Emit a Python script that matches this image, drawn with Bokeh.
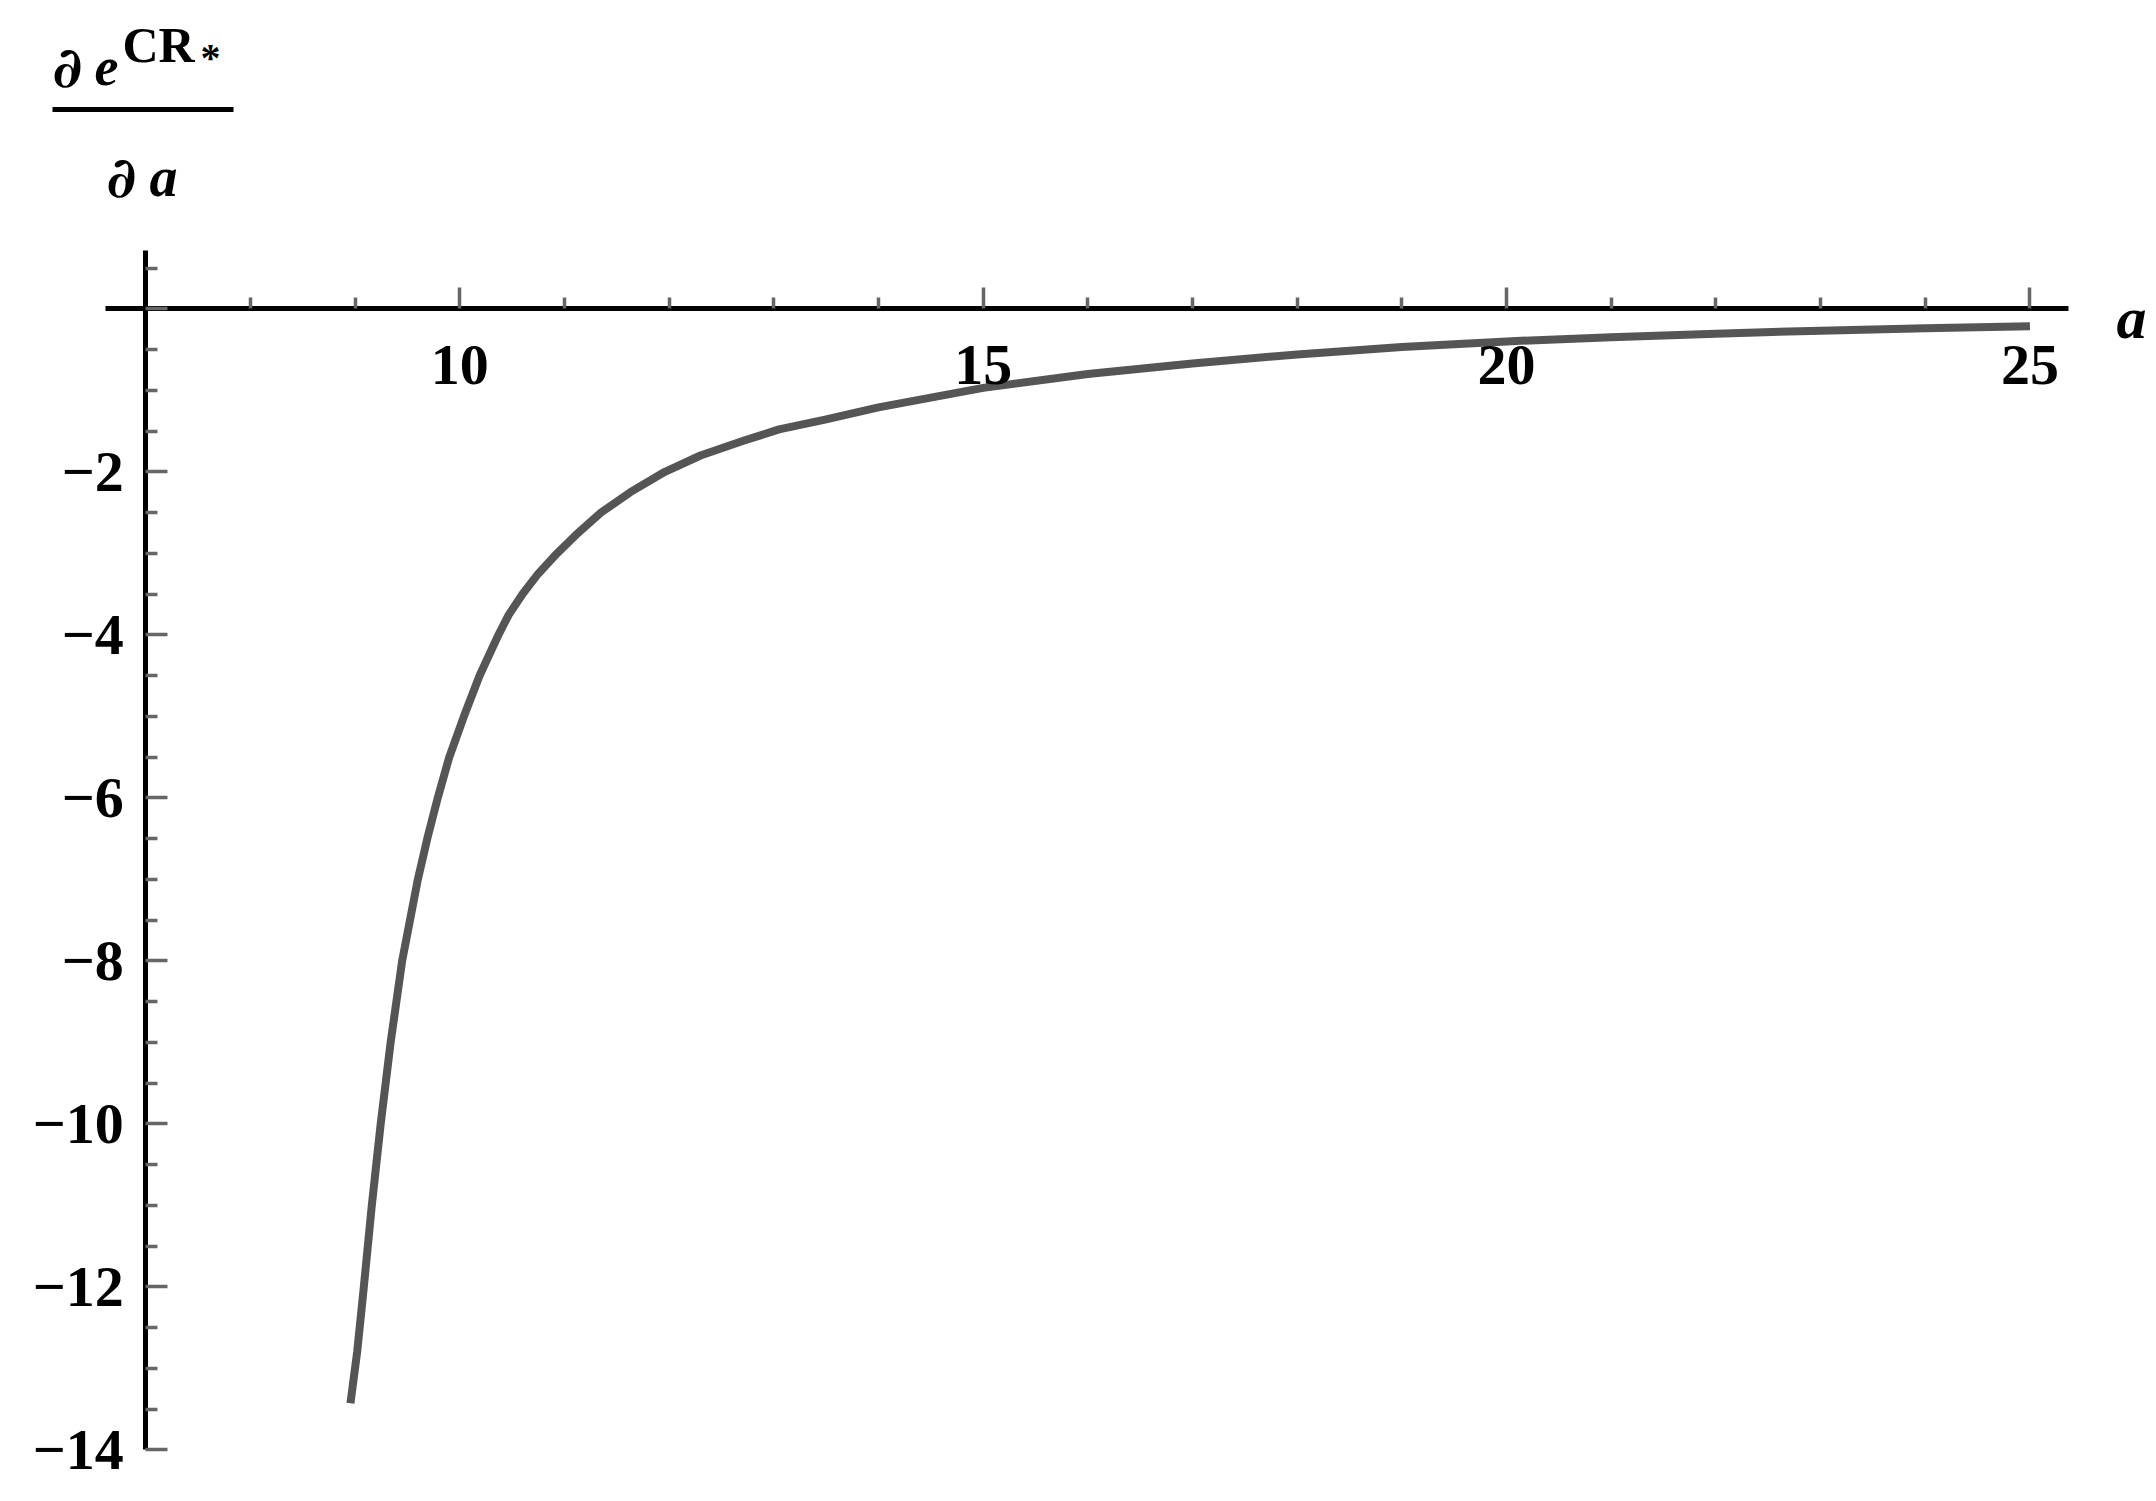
from bokeh.plotting import figure
from bokeh.models import FixedTicker, Range1d, Label, BoxAnnotation
from bokeh.embed import file_html
from bokeh.resources import INLINE

# ---- data ----
a_vals = [8.956, 9.02, 9.08, 9.16, 9.245, 9.34, 9.45, 9.60, 9.69, 9.79, 9.90,
          10.04, 10.19, 10.37, 10.47, 10.60, 10.75, 10.93, 11.13, 11.35, 11.63,
          11.96, 12.30, 12.71, 13.05, 13.49, 14.0, 15.0, 16.0, 17.0, 18.0, 19.0,
          20.0, 21.0, 22.0, 23.0, 24.0, 25.0]
de_vals = [-13.43, -12.80, -12.05, -11.00, -10.00, -9.00, -8.00, -7.00, -6.50,
           -6.00, -5.50, -5.00, -4.50, -4.00, -3.75, -3.50, -3.25, -3.00, -2.75,
           -2.50, -2.25, -2.00, -1.80, -1.62, -1.48, -1.36, -1.21, -0.97, -0.80,
           -0.67, -0.56, -0.47, -0.40, -0.348, -0.305, -0.268, -0.239, -0.214]

x_major = [10, 15, 20, 25]
x_minor = [8, 9, 11, 12, 13, 14, 16, 17, 18, 19, 21, 22, 23, 24]
y_major = [0, -2, -4, -6, -8, -10, -12, -14]
y_minor = [k / 2 for k in range(1, -28, -1) if k % 4 != 0]
y_labels = {0: ""}
for t in y_major[1:]:
    y_labels[t] = "\u2212" + str(-t)

# ---- layout (canvas pixel geometry) ----
W, H = 2156, 1501
X_ORIG_PX, SX = 145.2, 104.68   # canvas x of a=7, px per unit
Y_ORIG_PX, SY = 308.3, 81.5     # canvas y of 0, px per unit
LABEL_SHIFT = 21                # baseline correction for Label rendering

def px2x(px):
    return 7 + (px - X_ORIG_PX) / SX

def py2y(py):
    return -(py - Y_ORIG_PX) / SY

x_range = Range1d(px2x(0), px2x(W))
y_range = Range1d(py2y(H), py2y(0))

p = figure(width=W, height=H, x_range=x_range, y_range=y_range,
           output_backend="svg", toolbar_location=None, min_border=0)
p.outline_line_color = None
p.grid.visible = False
p.background_fill_color = "white"
p.border_fill_color = "white"

FONT = "Liberation Serif"
TICK_COL = "#666666"

xa = p.xaxis[0]
xa.fixed_location = 0
xa.ticker = FixedTicker(ticks=x_major, minor_ticks=x_minor)
xa.bounds = (6.62, 25.37)
xa.axis_line_color = "black"
xa.axis_line_width = 5
xa.major_tick_in = 21
xa.major_tick_out = 0
xa.minor_tick_in = 11
xa.minor_tick_out = 0
xa.major_tick_line_color = TICK_COL
xa.major_tick_line_width = 3.5
xa.minor_tick_line_color = TICK_COL
xa.minor_tick_line_width = 3.5
xa.major_label_text_font = FONT
xa.major_label_text_font_style = "bold"
xa.major_label_text_font_size = "58px"
xa.major_label_text_color = "black"
xa.major_label_standoff = 37

ya = p.yaxis[0]
ya.fixed_location = 7
ya.ticker = FixedTicker(ticks=y_major, minor_ticks=y_minor)
ya.bounds = (-14.0, 0.72)
ya.major_label_overrides = y_labels
ya.axis_line_color = "black"
ya.axis_line_width = 5
ya.major_tick_in = 22
ya.major_tick_out = 0
ya.minor_tick_in = 12
ya.minor_tick_out = 0
ya.major_tick_line_color = TICK_COL
ya.major_tick_line_width = 3.5
ya.minor_tick_line_color = TICK_COL
ya.minor_tick_line_width = 3.5
ya.major_label_text_font = FONT
ya.major_label_text_font_style = "bold"
ya.major_label_text_font_size = "58px"
ya.major_label_text_color = "black"
ya.major_label_standoff = 22

p.line(a_vals, de_vals, line_color="#555555", line_width=8, line_join="round")

def lab(text, px, py, size, style="bold", align="left", font=FONT):
    p.add_layout(Label(x=px2x(px), y=py2y(py - LABEL_SHIFT), text=text,
                       text_font=font, text_font_style=style,
                       text_font_size=size, text_color="black",
                       text_align=align, text_baseline="alphabetic"))

# x-axis name
lab("a", 2131, 338, "60px", "bold italic", "center")

# y-axis name: fraction  d e^{CR*} / d a
lab("\u2202", 52, 87, "56px", "bold", font="DejaVu Serif")
lab("e", 94, 87, "54px", "bold italic")
lab("CR", 122, 65, "50px", "bold")
lab("*", 200, 78, "40px", "bold")
p.add_layout(BoxAnnotation(left=px2x(52), right=px2x(233), top=py2y(106.5),
                           bottom=py2y(111.5), fill_color="black", fill_alpha=1.0,
                           line_color=None))
lab("\u2202", 106, 197, "56px", "bold", font="DejaVu Serif")
lab("a", 149, 197, "56px", "bold italic")

open("out.html", "w").write(file_html(p, INLINE))
